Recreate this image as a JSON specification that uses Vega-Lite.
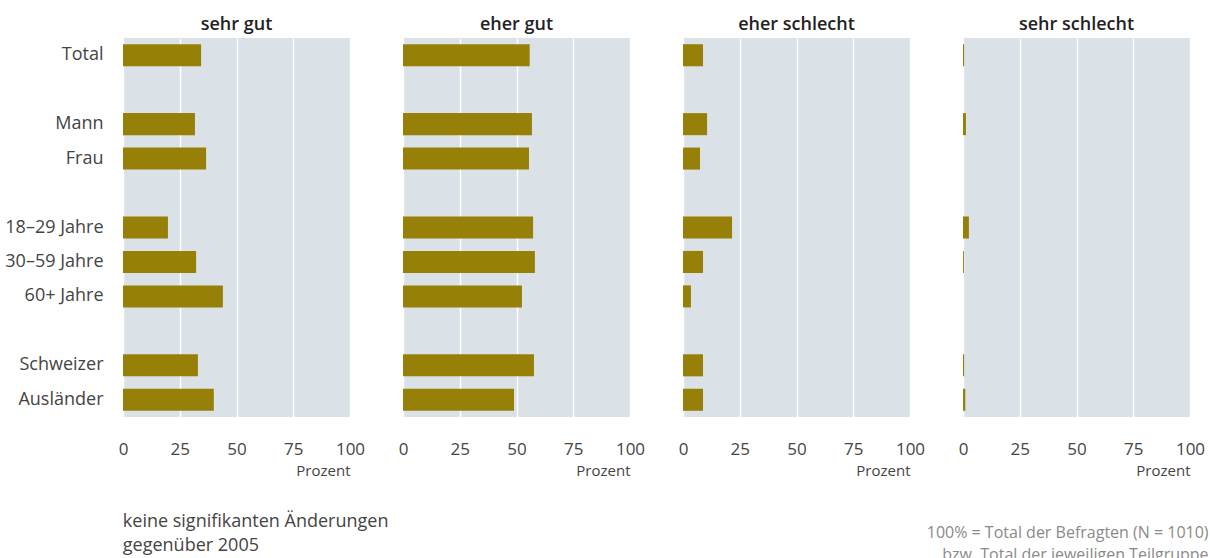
{
  "$schema": "https://vega.github.io/schema/vega-lite/v6.json",
  "padding": {"left": 4, "top": 16, "right": 20, "bottom": 0},
  "background": "white",
  "title": {
    "text": ["100% = Total der Befragten (N = 1010)", "bzw. Total der jeweiligen Teilgruppe"],
    "orient": "bottom",
    "anchor": "end",
    "align": "right",
    "fontSize": 16,
    "fontWeight": "normal",
    "color": "#8a8a8a",
    "font": "Open Sans",
    "lineHeight": 22,
    "offset": -30,
    "dx": 4
  },
  "vconcat": [
    {
      "title": {
        "text": ["keine signifikanten Änderungen", "gegenüber 2005"],
        "orient": "bottom",
        "anchor": "start",
        "align": "left",
        "frame": "bounds",
        "fontSize": 18,
        "fontWeight": "normal",
        "color": "#444444",
        "font": "Open Sans",
        "lineHeight": 24,
        "offset": 35,
        "dx": 118
      },
      "data": {
        "values": [
          {"antwort": "sehr gut", "gruppe": "Total", "wert": 34.4},
          {"antwort": "sehr gut", "gruppe": "Mann", "wert": 31.7},
          {"antwort": "sehr gut", "gruppe": "Frau", "wert": 36.6},
          {"antwort": "sehr gut", "gruppe": "18–29 Jahre", "wert": 19.8},
          {"antwort": "sehr gut", "gruppe": "30–59 Jahre", "wert": 32.2},
          {"antwort": "sehr gut", "gruppe": "60+ Jahre", "wert": 44.0},
          {"antwort": "sehr gut", "gruppe": "Schweizer", "wert": 33.0},
          {"antwort": "sehr gut", "gruppe": "Ausländer", "wert": 40.0},
          {"antwort": "eher gut", "gruppe": "Total", "wert": 55.8},
          {"antwort": "eher gut", "gruppe": "Mann", "wert": 56.8},
          {"antwort": "eher gut", "gruppe": "Frau", "wert": 55.5},
          {"antwort": "eher gut", "gruppe": "18–29 Jahre", "wert": 57.3},
          {"antwort": "eher gut", "gruppe": "30–59 Jahre", "wert": 58.1},
          {"antwort": "eher gut", "gruppe": "60+ Jahre", "wert": 52.4},
          {"antwort": "eher gut", "gruppe": "Schweizer", "wert": 57.7},
          {"antwort": "eher gut", "gruppe": "Ausländer", "wert": 48.9},
          {"antwort": "eher schlecht", "gruppe": "Total", "wert": 8.8},
          {"antwort": "eher schlecht", "gruppe": "Mann", "wert": 10.6},
          {"antwort": "eher schlecht", "gruppe": "Frau", "wert": 7.5},
          {"antwort": "eher schlecht", "gruppe": "18–29 Jahre", "wert": 21.6},
          {"antwort": "eher schlecht", "gruppe": "30–59 Jahre", "wert": 8.8},
          {"antwort": "eher schlecht", "gruppe": "60+ Jahre", "wert": 3.5},
          {"antwort": "eher schlecht", "gruppe": "Schweizer", "wert": 8.8},
          {"antwort": "eher schlecht", "gruppe": "Ausländer", "wert": 8.8},
          {"antwort": "sehr schlecht", "gruppe": "Total", "wert": 0.5},
          {"antwort": "sehr schlecht", "gruppe": "Mann", "wert": 1.3},
          {"antwort": "sehr schlecht", "gruppe": "Frau", "wert": 0},
          {"antwort": "sehr schlecht", "gruppe": "18–29 Jahre", "wert": 2.6},
          {"antwort": "sehr schlecht", "gruppe": "30–59 Jahre", "wert": 0.4},
          {"antwort": "sehr schlecht", "gruppe": "60+ Jahre", "wert": 0},
          {"antwort": "sehr schlecht", "gruppe": "Schweizer", "wert": 0.5},
          {"antwort": "sehr schlecht", "gruppe": "Ausländer", "wert": 1.0}
        ]
      },
      "facet": {
        "column": {
          "field": "antwort",
          "type": "nominal",
          "sort": ["sehr gut", "eher gut", "eher schlecht", "sehr schlecht"],
          "header": {
            "title": null,
            "labelFontSize": 18,
            "labelFontWeight": 600,
            "labelColor": "#222222",
            "labelFont": "Open Sans",
            "labelPadding": 4
          }
        }
      },
      "spacing": 53,
      "spec": {
        "width": 227,
        "height": 379,
        "mark": {"type": "bar", "color": "#968008"},
        "encoding": {
          "y": {
            "field": "gruppe",
            "type": "nominal",
            "scale": {
              "domain": ["Total", " ", "Mann", "Frau", "  ", "18–29 Jahre", "30–59 Jahre", "60+ Jahre", "   ", "Schweizer", "Ausländer"],
              "paddingInner": 0.36,
              "paddingOuter": 0.18
            },
            "axis": {
              "title": null,
              "domain": false,
              "ticks": false,
              "labelFontSize": 18,
              "labelColor": "#444444",
              "labelFont": "Open Sans",
              "labelPadding": 20
            }
          },
          "x": {
            "field": "wert",
            "type": "quantitative",
            "scale": {"domain": [0, 100], "nice": false},
            "axis": {
              "title": "Prozent",
              "titleAnchor": "end",
              "titleFontSize": 15,
              "titleFontWeight": "normal",
              "titleColor": "#444444",
              "titleFont": "Open Sans",
              "titlePadding": 6,
              "values": [0, 25, 50, 75, 100],
              "domain": false,
              "ticks": false,
              "labelFlush": false,
              "labelFontSize": 17,
              "labelColor": "#444444",
              "labelFont": "Open Sans",
              "labelPadding": 24,
              "grid": true,
              "gridColor": "#ffffff",
              "gridWidth": 1.5
            }
          }
        }
      }
    }
  ],
  "config": {
    "font": "Open Sans",
    "view": {"fill": "#dae1e7", "stroke": null}
  }
}
